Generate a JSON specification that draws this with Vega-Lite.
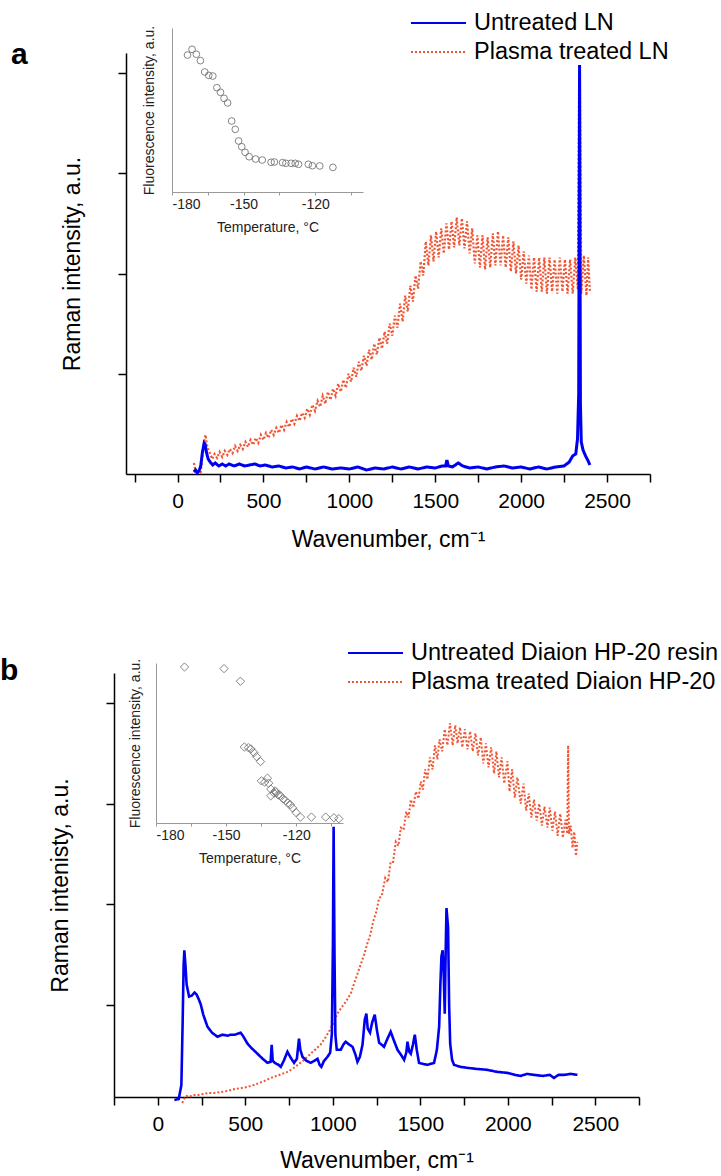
{
"$schema": "https://vega.github.io/schema/vega-lite/v6.json",
"autosize": {"type": "pad"},
"padding": {"left": 0, "top": 11, "right": 0, "bottom": 0},
"background": "white",
"config": {"font": "Liberation Sans", "view": {"stroke": null}, "axis": {"grid": false, "labelFont": "Liberation Sans", "titleFont": "Liberation Sans"}, "legend": {"labelFont": "Liberation Sans"}},
"datasets": {
"aLines": [
{"s":"Plasma treated LN","w":95,"v":0.11},{"s":"Plasma treated LN","w":105,"v":0.03},{"s":"Plasma treated LN","w":115,"v":0.01},{"s":"Plasma treated LN","w":125,"v":0.04},{"s":"Plasma treated LN","w":135,"v":0.02},{"s":"Plasma treated LN","w":145,"v":0.18},{"s":"Plasma treated LN","w":155,"v":0.33},{"s":"Plasma treated LN","w":163,"v":0.39},{"s":"Plasma treated LN","w":170,"v":0.30},{"s":"Plasma treated LN","w":180,"v":0.24},{"s":"Plasma treated LN","w":190,"v":0.20},{"s":"Plasma treated LN","w":202,"v":0.15},{"s":"Plasma treated LN","w":215,"v":0.20},{"s":"Plasma treated LN","w":230,"v":0.16},{"s":"Plasma treated LN","w":245,"v":0.22},{"s":"Plasma treated LN","w":260,"v":0.17},{"s":"Plasma treated LN","w":275,"v":0.23},{"s":"Plasma treated LN","w":290,"v":0.19},{"s":"Plasma treated LN","w":305,"v":0.25},{"s":"Plasma treated LN","w":320,"v":0.21},{"s":"Plasma treated LN","w":335,"v":0.28},{"s":"Plasma treated LN","w":350,"v":0.23},{"s":"Plasma treated LN","w":365,"v":0.29},{"s":"Plasma treated LN","w":380,"v":0.25},{"s":"Plasma treated LN","w":395,"v":0.32},{"s":"Plasma treated LN","w":410,"v":0.27},{"s":"Plasma treated LN","w":425,"v":0.34},{"s":"Plasma treated LN","w":440,"v":0.29},{"s":"Plasma treated LN","w":455,"v":0.36},{"s":"Plasma treated LN","w":470,"v":0.31},{"s":"Plasma treated LN","w":485,"v":0.39},{"s":"Plasma treated LN","w":500,"v":0.34},{"s":"Plasma treated LN","w":515,"v":0.41},{"s":"Plasma treated LN","w":530,"v":0.36},{"s":"Plasma treated LN","w":545,"v":0.44},{"s":"Plasma treated LN","w":560,"v":0.39},{"s":"Plasma treated LN","w":575,"v":0.46},{"s":"Plasma treated LN","w":590,"v":0.41},{"s":"Plasma treated LN","w":605,"v":0.49},{"s":"Plasma treated LN","w":620,"v":0.44},{"s":"Plasma treated LN","w":635,"v":0.52},{"s":"Plasma treated LN","w":650,"v":0.47},{"s":"Plasma treated LN","w":665,"v":0.55},{"s":"Plasma treated LN","w":680,"v":0.50},{"s":"Plasma treated LN","w":695,"v":0.58},{"s":"Plasma treated LN","w":710,"v":0.53},{"s":"Plasma treated LN","w":725,"v":0.61},{"s":"Plasma treated LN","w":740,"v":0.56},{"s":"Plasma treated LN","w":755,"v":0.65},{"s":"Plasma treated LN","w":770,"v":0.59},{"s":"Plasma treated LN","w":785,"v":0.69},{"s":"Plasma treated LN","w":800,"v":0.63},{"s":"Plasma treated LN","w":815,"v":0.73},{"s":"Plasma treated LN","w":830,"v":0.67},{"s":"Plasma treated LN","w":845,"v":0.78},{"s":"Plasma treated LN","w":860,"v":0.70},{"s":"Plasma treated LN","w":875,"v":0.82},{"s":"Plasma treated LN","w":890,"v":0.74},{"s":"Plasma treated LN","w":905,"v":0.85},{"s":"Plasma treated LN","w":920,"v":0.78},{"s":"Plasma treated LN","w":935,"v":0.90},{"s":"Plasma treated LN","w":950,"v":0.82},{"s":"Plasma treated LN","w":965,"v":0.94},{"s":"Plasma treated LN","w":980,"v":0.86},{"s":"Plasma treated LN","w":995,"v":1.00},{"s":"Plasma treated LN","w":1010,"v":0.92},{"s":"Plasma treated LN","w":1025,"v":1.06},{"s":"Plasma treated LN","w":1040,"v":0.97},{"s":"Plasma treated LN","w":1055,"v":1.12},{"s":"Plasma treated LN","w":1070,"v":1.03},{"s":"Plasma treated LN","w":1085,"v":1.18},{"s":"Plasma treated LN","w":1100,"v":1.08},{"s":"Plasma treated LN","w":1115,"v":1.24},{"s":"Plasma treated LN","w":1130,"v":1.14},{"s":"Plasma treated LN","w":1145,"v":1.30},{"s":"Plasma treated LN","w":1160,"v":1.19},{"s":"Plasma treated LN","w":1175,"v":1.36},{"s":"Plasma treated LN","w":1190,"v":1.25},{"s":"Plasma treated LN","w":1205,"v":1.42},{"s":"Plasma treated LN","w":1220,"v":1.30},{"s":"Plasma treated LN","w":1235,"v":1.50},{"s":"Plasma treated LN","w":1250,"v":1.38},{"s":"Plasma treated LN","w":1265,"v":1.58},{"s":"Plasma treated LN","w":1280,"v":1.46},{"s":"Plasma treated LN","w":1295,"v":1.70},{"s":"Plasma treated LN","w":1310,"v":1.52},{"s":"Plasma treated LN","w":1325,"v":1.78},{"s":"Plasma treated LN","w":1340,"v":1.62},{"s":"Plasma treated LN","w":1355,"v":1.88},{"s":"Plasma treated LN","w":1370,"v":1.72},{"s":"Plasma treated LN","w":1385,"v":1.98},{"s":"Plasma treated LN","w":1400,"v":1.85},{"s":"Plasma treated LN","w":1415,"v":2.12},{"s":"Plasma treated LN","w":1430,"v":1.98},{"s":"Plasma treated LN","w":1445,"v":2.32},{"s":"Plasma treated LN","w":1460,"v":2.08},{"s":"Plasma treated LN","w":1475,"v":2.38},{"s":"Plasma treated LN","w":1490,"v":2.12},{"s":"Plasma treated LN","w":1505,"v":2.42},{"s":"Plasma treated LN","w":1520,"v":2.16},{"s":"Plasma treated LN","w":1535,"v":2.45},{"s":"Plasma treated LN","w":1550,"v":2.20},{"s":"Plasma treated LN","w":1565,"v":2.50},{"s":"Plasma treated LN","w":1580,"v":2.24},{"s":"Plasma treated LN","w":1595,"v":2.52},{"s":"Plasma treated LN","w":1610,"v":2.26},{"s":"Plasma treated LN","w":1625,"v":2.56},{"s":"Plasma treated LN","w":1640,"v":2.28},{"s":"Plasma treated LN","w":1655,"v":2.55},{"s":"Plasma treated LN","w":1670,"v":2.25},{"s":"Plasma treated LN","w":1685,"v":2.52},{"s":"Plasma treated LN","w":1700,"v":2.20},{"s":"Plasma treated LN","w":1715,"v":2.45},{"s":"Plasma treated LN","w":1730,"v":2.10},{"s":"Plasma treated LN","w":1745,"v":2.38},{"s":"Plasma treated LN","w":1760,"v":2.06},{"s":"Plasma treated LN","w":1775,"v":2.38},{"s":"Plasma treated LN","w":1790,"v":2.04},{"s":"Plasma treated LN","w":1805,"v":2.36},{"s":"Plasma treated LN","w":1820,"v":2.06},{"s":"Plasma treated LN","w":1835,"v":2.40},{"s":"Plasma treated LN","w":1850,"v":2.08},{"s":"Plasma treated LN","w":1865,"v":2.42},{"s":"Plasma treated LN","w":1880,"v":2.08},{"s":"Plasma treated LN","w":1895,"v":2.38},{"s":"Plasma treated LN","w":1910,"v":2.06},{"s":"Plasma treated LN","w":1925,"v":2.36},{"s":"Plasma treated LN","w":1940,"v":2.02},{"s":"Plasma treated LN","w":1955,"v":2.32},{"s":"Plasma treated LN","w":1970,"v":2.00},{"s":"Plasma treated LN","w":1985,"v":2.28},{"s":"Plasma treated LN","w":2000,"v":1.94},{"s":"Plasma treated LN","w":2015,"v":2.22},{"s":"Plasma treated LN","w":2030,"v":1.90},{"s":"Plasma treated LN","w":2045,"v":2.18},{"s":"Plasma treated LN","w":2060,"v":1.84},{"s":"Plasma treated LN","w":2075,"v":2.16},{"s":"Plasma treated LN","w":2090,"v":1.82},{"s":"Plasma treated LN","w":2105,"v":2.16},{"s":"Plasma treated LN","w":2120,"v":1.82},{"s":"Plasma treated LN","w":2135,"v":2.16},{"s":"Plasma treated LN","w":2150,"v":1.80},{"s":"Plasma treated LN","w":2165,"v":2.16},{"s":"Plasma treated LN","w":2180,"v":1.82},{"s":"Plasma treated LN","w":2195,"v":2.14},{"s":"Plasma treated LN","w":2210,"v":1.80},{"s":"Plasma treated LN","w":2225,"v":2.16},{"s":"Plasma treated LN","w":2240,"v":1.82},{"s":"Plasma treated LN","w":2255,"v":2.14},{"s":"Plasma treated LN","w":2270,"v":1.80},{"s":"Plasma treated LN","w":2285,"v":2.14},{"s":"Plasma treated LN","w":2300,"v":1.80},{"s":"Plasma treated LN","w":2315,"v":2.16},{"s":"Plasma treated LN","w":2330,"v":1.84},{"s":"Plasma treated LN","w":2338,"v":4.08},{"s":"Plasma treated LN","w":2342,"v":4.08},{"s":"Plasma treated LN","w":2350,"v":1.80},{"s":"Plasma treated LN","w":2365,"v":2.18},{"s":"Plasma treated LN","w":2380,"v":1.78},{"s":"Plasma treated LN","w":2390,"v":2.16},{"s":"Plasma treated LN","w":2400,"v":1.82},
{"s":"Untreated LN","w":95,"v":0.02},{"s":"Untreated LN","w":105,"v":0.04},{"s":"Untreated LN","w":115,"v":0.01},{"s":"Untreated LN","w":125,"v":0.03},{"s":"Untreated LN","w":135,"v":0.08},{"s":"Untreated LN","w":145,"v":0.22},{"s":"Untreated LN","w":155,"v":0.31},{"s":"Untreated LN","w":160,"v":0.30},{"s":"Untreated LN","w":168,"v":0.22},{"s":"Untreated LN","w":178,"v":0.15},{"s":"Untreated LN","w":190,"v":0.12},{"s":"Untreated LN","w":205,"v":0.09},{"s":"Untreated LN","w":220,"v":0.11},{"s":"Untreated LN","w":240,"v":0.08},{"s":"Untreated LN","w":260,"v":0.10},{"s":"Untreated LN","w":280,"v":0.08},{"s":"Untreated LN","w":300,"v":0.10},{"s":"Untreated LN","w":330,"v":0.08},{"s":"Untreated LN","w":360,"v":0.10},{"s":"Untreated LN","w":390,"v":0.08},{"s":"Untreated LN","w":420,"v":0.09},{"s":"Untreated LN","w":450,"v":0.10},{"s":"Untreated LN","w":480,"v":0.08},{"s":"Untreated LN","w":510,"v":0.09},{"s":"Untreated LN","w":550,"v":0.07},{"s":"Untreated LN","w":590,"v":0.08},{"s":"Untreated LN","w":630,"v":0.06},{"s":"Untreated LN","w":670,"v":0.07},{"s":"Untreated LN","w":710,"v":0.05},{"s":"Untreated LN","w":750,"v":0.07},{"s":"Untreated LN","w":800,"v":0.05},{"s":"Untreated LN","w":850,"v":0.07},{"s":"Untreated LN","w":900,"v":0.05},{"s":"Untreated LN","w":950,"v":0.06},{"s":"Untreated LN","w":1000,"v":0.05},{"s":"Untreated LN","w":1050,"v":0.07},{"s":"Untreated LN","w":1100,"v":0.04},{"s":"Untreated LN","w":1150,"v":0.06},{"s":"Untreated LN","w":1200,"v":0.05},{"s":"Untreated LN","w":1250,"v":0.07},{"s":"Untreated LN","w":1300,"v":0.05},{"s":"Untreated LN","w":1350,"v":0.07},{"s":"Untreated LN","w":1400,"v":0.05},{"s":"Untreated LN","w":1450,"v":0.07},{"s":"Untreated LN","w":1500,"v":0.06},{"s":"Untreated LN","w":1540,"v":0.08},{"s":"Untreated LN","w":1560,"v":0.08},{"s":"Untreated LN","w":1568,"v":0.14},{"s":"Untreated LN","w":1576,"v":0.08},{"s":"Untreated LN","w":1600,"v":0.07},{"s":"Untreated LN","w":1634,"v":0.11},{"s":"Untreated LN","w":1660,"v":0.08},{"s":"Untreated LN","w":1700,"v":0.06},{"s":"Untreated LN","w":1750,"v":0.07},{"s":"Untreated LN","w":1800,"v":0.05},{"s":"Untreated LN","w":1850,"v":0.07},{"s":"Untreated LN","w":1900,"v":0.08},{"s":"Untreated LN","w":1950,"v":0.06},{"s":"Untreated LN","w":2000,"v":0.07},{"s":"Untreated LN","w":2050,"v":0.05},{"s":"Untreated LN","w":2100,"v":0.07},{"s":"Untreated LN","w":2150,"v":0.05},{"s":"Untreated LN","w":2200,"v":0.07},{"s":"Untreated LN","w":2250,"v":0.08},{"s":"Untreated LN","w":2280,"v":0.12},{"s":"Untreated LN","w":2300,"v":0.18},{"s":"Untreated LN","w":2318,"v":0.20},{"s":"Untreated LN","w":2328,"v":0.35},{"s":"Untreated LN","w":2335,"v":0.8},{"s":"Untreated LN","w":2340,"v":4.08},{"s":"Untreated LN","w":2345,"v":0.7},{"s":"Untreated LN","w":2350,"v":0.32},{"s":"Untreated LN","w":2360,"v":0.24},{"s":"Untreated LN","w":2375,"v":0.18},{"s":"Untreated LN","w":2390,"v":0.13},{"s":"Untreated LN","w":2400,"v":0.09}
],
"aInset": [
{"t":-173.5,"f":83.5},{"t":-171.6,"f":87.0},{"t":-169.8,"f":84.0},{"t":-168.1,"f":80.1},{"t":-166.3,"f":73.2},{"t":-164.6,"f":71.1},{"t":-162.9,"f":70.7},{"t":-161.2,"f":63.6},{"t":-159.7,"f":60.8},{"t":-158.2,"f":57.1},{"t":-156.7,"f":54.3},{"t":-155.0,"f":43.3},{"t":-153.5,"f":38.2},{"t":-152.1,"f":31.1},{"t":-150.8,"f":27.6},{"t":-149.4,"f":24.2},{"t":-147.7,"f":21.5},{"t":-145.0,"f":20.1},{"t":-142.2,"f":19.5},{"t":-138.5,"f":18.1},{"t":-137.1,"f":18.3},{"t":-133.7,"f":17.9},{"t":-132.3,"f":17.5},{"t":-130.1,"f":17.5},{"t":-128.4,"f":17.5},{"t":-127.0,"f":16.9},{"t":-122.9,"f":16.9},{"t":-121.2,"f":16.0},{"t":-118.1,"f":15.9},{"t":-112.6,"f":15.0}
],
"bLines": [
{"s":"Plasma treated Diaion HP-20","w":140,"v":0.02},{"s":"Plasma treated Diaion HP-20","w":150,"v":0.06},{"s":"Plasma treated Diaion HP-20","w":165,"v":0.09},{"s":"Plasma treated Diaion HP-20","w":180,"v":0.08},{"s":"Plasma treated Diaion HP-20","w":200,"v":0.10},{"s":"Plasma treated Diaion HP-20","w":230,"v":0.10},{"s":"Plasma treated Diaion HP-20","w":260,"v":0.11},{"s":"Plasma treated Diaion HP-20","w":290,"v":0.12},{"s":"Plasma treated Diaion HP-20","w":320,"v":0.12},{"s":"Plasma treated Diaion HP-20","w":360,"v":0.13},{"s":"Plasma treated Diaion HP-20","w":400,"v":0.14},{"s":"Plasma treated Diaion HP-20","w":440,"v":0.16},{"s":"Plasma treated Diaion HP-20","w":480,"v":0.17},{"s":"Plasma treated Diaion HP-20","w":513,"v":0.18},{"s":"Plasma treated Diaion HP-20","w":550,"v":0.20},{"s":"Plasma treated Diaion HP-20","w":580,"v":0.22},{"s":"Plasma treated Diaion HP-20","w":610,"v":0.24},{"s":"Plasma treated Diaion HP-20","w":646,"v":0.27},{"s":"Plasma treated Diaion HP-20","w":680,"v":0.29},{"s":"Plasma treated Diaion HP-20","w":710,"v":0.31},{"s":"Plasma treated Diaion HP-20","w":741,"v":0.33},{"s":"Plasma treated Diaion HP-20","w":770,"v":0.36},{"s":"Plasma treated Diaion HP-20","w":800,"v":0.40},{"s":"Plasma treated Diaion HP-20","w":830,"v":0.44},{"s":"Plasma treated Diaion HP-20","w":855,"v":0.48},{"s":"Plasma treated Diaion HP-20","w":880,"v":0.52},{"s":"Plasma treated Diaion HP-20","w":905,"v":0.56},{"s":"Plasma treated Diaion HP-20","w":930,"v":0.60},{"s":"Plasma treated Diaion HP-20","w":950,"v":0.65},{"s":"Plasma treated Diaion HP-20","w":975,"v":0.72},{"s":"Plasma treated Diaion HP-20","w":1000,"v":0.80},{"s":"Plasma treated Diaion HP-20","w":1027,"v":0.91},{"s":"Plasma treated Diaion HP-20","w":1050,"v":0.97},{"s":"Plasma treated Diaion HP-20","w":1075,"v":1.03},{"s":"Plasma treated Diaion HP-20","w":1103,"v":1.11},{"s":"Plasma treated Diaion HP-20","w":1122,"v":1.21},{"s":"Plasma treated Diaion HP-20","w":1140,"v":1.30},{"s":"Plasma treated Diaion HP-20","w":1160,"v":1.40},{"s":"Plasma treated Diaion HP-20","w":1180,"v":1.50},{"s":"Plasma treated Diaion HP-20","w":1198,"v":1.61},{"s":"Plasma treated Diaion HP-20","w":1215,"v":1.70},{"s":"Plasma treated Diaion HP-20","w":1230,"v":1.82},{"s":"Plasma treated Diaion HP-20","w":1250,"v":1.93},{"s":"Plasma treated Diaion HP-20","w":1265,"v":2.06},{"s":"Plasma treated Diaion HP-20","w":1280,"v":2.08},{"s":"Plasma treated Diaion HP-20","w":1300,"v":2.26},{"s":"Plasma treated Diaion HP-20","w":1315,"v":2.22},{"s":"Plasma treated Diaion HP-20","w":1331,"v":2.42},{"s":"Plasma treated Diaion HP-20","w":1345,"v":2.42},{"s":"Plasma treated Diaion HP-20","w":1360,"v":2.62},{"s":"Plasma treated Diaion HP-20","w":1375,"v":2.58},{"s":"Plasma treated Diaion HP-20","w":1389,"v":2.76},{"s":"Plasma treated Diaion HP-20","w":1405,"v":2.74},{"s":"Plasma treated Diaion HP-20","w":1420,"v":2.92},{"s":"Plasma treated Diaion HP-20","w":1433,"v":2.86},{"s":"Plasma treated Diaion HP-20","w":1446,"v":3.04},{"s":"Plasma treated Diaion HP-20","w":1460,"v":2.96},{"s":"Plasma treated Diaion HP-20","w":1475,"v":3.12},{"s":"Plasma treated Diaion HP-20","w":1490,"v":3.05},{"s":"Plasma treated Diaion HP-20","w":1503,"v":3.22},{"s":"Plasma treated Diaion HP-20","w":1515,"v":3.14},{"s":"Plasma treated Diaion HP-20","w":1528,"v":3.34},{"s":"Plasma treated Diaion HP-20","w":1541,"v":3.24},{"s":"Plasma treated Diaion HP-20","w":1555,"v":3.46},{"s":"Plasma treated Diaion HP-20","w":1570,"v":3.34},{"s":"Plasma treated Diaion HP-20","w":1584,"v":3.58},{"s":"Plasma treated Diaion HP-20","w":1598,"v":3.44},{"s":"Plasma treated Diaion HP-20","w":1610,"v":3.64},{"s":"Plasma treated Diaion HP-20","w":1625,"v":3.52},{"s":"Plasma treated Diaion HP-20","w":1640,"v":3.74},{"s":"Plasma treated Diaion HP-20","w":1655,"v":3.58},{"s":"Plasma treated Diaion HP-20","w":1670,"v":3.80},{"s":"Plasma treated Diaion HP-20","w":1685,"v":3.58},{"s":"Plasma treated Diaion HP-20","w":1700,"v":3.78},{"s":"Plasma treated Diaion HP-20","w":1713,"v":3.60},{"s":"Plasma treated Diaion HP-20","w":1727,"v":3.76},{"s":"Plasma treated Diaion HP-20","w":1740,"v":3.56},{"s":"Plasma treated Diaion HP-20","w":1755,"v":3.74},{"s":"Plasma treated Diaion HP-20","w":1770,"v":3.54},{"s":"Plasma treated Diaion HP-20","w":1785,"v":3.72},{"s":"Plasma treated Diaion HP-20","w":1800,"v":3.52},{"s":"Plasma treated Diaion HP-20","w":1815,"v":3.70},{"s":"Plasma treated Diaion HP-20","w":1830,"v":3.48},{"s":"Plasma treated Diaion HP-20","w":1846,"v":3.66},{"s":"Plasma treated Diaion HP-20","w":1860,"v":3.40},{"s":"Plasma treated Diaion HP-20","w":1875,"v":3.60},{"s":"Plasma treated Diaion HP-20","w":1890,"v":3.36},{"s":"Plasma treated Diaion HP-20","w":1905,"v":3.56},{"s":"Plasma treated Diaion HP-20","w":1922,"v":3.30},{"s":"Plasma treated Diaion HP-20","w":1935,"v":3.52},{"s":"Plasma treated Diaion HP-20","w":1950,"v":3.26},{"s":"Plasma treated Diaion HP-20","w":1965,"v":3.46},{"s":"Plasma treated Diaion HP-20","w":1980,"v":3.20},{"s":"Plasma treated Diaion HP-20","w":1998,"v":3.42},{"s":"Plasma treated Diaion HP-20","w":2010,"v":3.12},{"s":"Plasma treated Diaion HP-20","w":2025,"v":3.34},{"s":"Plasma treated Diaion HP-20","w":2040,"v":3.06},{"s":"Plasma treated Diaion HP-20","w":2055,"v":3.26},{"s":"Plasma treated Diaion HP-20","w":2074,"v":3.00},{"s":"Plasma treated Diaion HP-20","w":2090,"v":3.20},{"s":"Plasma treated Diaion HP-20","w":2105,"v":2.93},{"s":"Plasma treated Diaion HP-20","w":2120,"v":3.10},{"s":"Plasma treated Diaion HP-20","w":2135,"v":2.86},{"s":"Plasma treated Diaion HP-20","w":2150,"v":3.04},{"s":"Plasma treated Diaion HP-20","w":2165,"v":2.83},{"s":"Plasma treated Diaion HP-20","w":2180,"v":3.00},{"s":"Plasma treated Diaion HP-20","w":2195,"v":2.78},{"s":"Plasma treated Diaion HP-20","w":2210,"v":2.97},{"s":"Plasma treated Diaion HP-20","w":2227,"v":2.76},{"s":"Plasma treated Diaion HP-20","w":2240,"v":2.96},{"s":"Plasma treated Diaion HP-20","w":2255,"v":2.73},{"s":"Plasma treated Diaion HP-20","w":2270,"v":2.92},{"s":"Plasma treated Diaion HP-20","w":2285,"v":2.68},{"s":"Plasma treated Diaion HP-20","w":2300,"v":2.90},{"s":"Plasma treated Diaion HP-20","w":2315,"v":2.66},{"s":"Plasma treated Diaion HP-20","w":2330,"v":2.84},{"s":"Plasma treated Diaion HP-20","w":2340,"v":2.70},{"s":"Plasma treated Diaion HP-20","w":2345,"v":3.58},{"s":"Plasma treated Diaion HP-20","w":2350,"v":2.70},{"s":"Plasma treated Diaion HP-20","w":2360,"v":2.78},{"s":"Plasma treated Diaion HP-20","w":2370,"v":2.56},{"s":"Plasma treated Diaion HP-20","w":2380,"v":2.72},{"s":"Plasma treated Diaion HP-20","w":2390,"v":2.48},{"s":"Plasma treated Diaion HP-20","w":2398,"v":2.62},
{"s":"Untreated Diaion HP-20 resin","w":95,"v":0.05},{"s":"Untreated Diaion HP-20 resin","w":120,"v":0.06},{"s":"Untreated Diaion HP-20 resin","w":135,"v":0.2},{"s":"Untreated Diaion HP-20 resin","w":142,"v":0.8},{"s":"Untreated Diaion HP-20 resin","w":148,"v":1.4},{"s":"Untreated Diaion HP-20 resin","w":152,"v":1.54},{"s":"Untreated Diaion HP-20 resin","w":158,"v":1.4},{"s":"Untreated Diaion HP-20 resin","w":165,"v":1.2},{"s":"Untreated Diaion HP-20 resin","w":179,"v":1.08},{"s":"Untreated Diaion HP-20 resin","w":195,"v":1.09},{"s":"Untreated Diaion HP-20 resin","w":210,"v":1.12},{"s":"Untreated Diaion HP-20 resin","w":222,"v":1.10},{"s":"Untreated Diaion HP-20 resin","w":235,"v":1.05},{"s":"Untreated Diaion HP-20 resin","w":246,"v":1.0},{"s":"Untreated Diaion HP-20 resin","w":260,"v":0.9},{"s":"Untreated Diaion HP-20 resin","w":284,"v":0.78},{"s":"Untreated Diaion HP-20 resin","w":310,"v":0.72},{"s":"Untreated Diaion HP-20 resin","w":341,"v":0.68},{"s":"Untreated Diaion HP-20 resin","w":370,"v":0.70},{"s":"Untreated Diaion HP-20 resin","w":400,"v":0.69},{"s":"Untreated Diaion HP-20 resin","w":417,"v":0.70},{"s":"Untreated Diaion HP-20 resin","w":440,"v":0.70},{"s":"Untreated Diaion HP-20 resin","w":474,"v":0.72},{"s":"Untreated Diaion HP-20 resin","w":490,"v":0.68},{"s":"Untreated Diaion HP-20 resin","w":513,"v":0.61},{"s":"Untreated Diaion HP-20 resin","w":540,"v":0.56},{"s":"Untreated Diaion HP-20 resin","w":570,"v":0.51},{"s":"Untreated Diaion HP-20 resin","w":600,"v":0.46},{"s":"Untreated Diaion HP-20 resin","w":627,"v":0.42},{"s":"Untreated Diaion HP-20 resin","w":645,"v":0.43},{"s":"Untreated Diaion HP-20 resin","w":651,"v":0.60},{"s":"Untreated Diaion HP-20 resin","w":657,"v":0.44},{"s":"Untreated Diaion HP-20 resin","w":669,"v":0.42},{"s":"Untreated Diaion HP-20 resin","w":690,"v":0.40},{"s":"Untreated Diaion HP-20 resin","w":703,"v":0.38},{"s":"Untreated Diaion HP-20 resin","w":720,"v":0.44},{"s":"Untreated Diaion HP-20 resin","w":741,"v":0.53},{"s":"Untreated Diaion HP-20 resin","w":760,"v":0.47},{"s":"Untreated Diaion HP-20 resin","w":779,"v":0.42},{"s":"Untreated Diaion HP-20 resin","w":795,"v":0.46},{"s":"Untreated Diaion HP-20 resin","w":807,"v":0.66},{"s":"Untreated Diaion HP-20 resin","w":815,"v":0.55},{"s":"Untreated Diaion HP-20 resin","w":827,"v":0.48},{"s":"Untreated Diaion HP-20 resin","w":850,"v":0.44},{"s":"Untreated Diaion HP-20 resin","w":874,"v":0.42},{"s":"Untreated Diaion HP-20 resin","w":895,"v":0.44},{"s":"Untreated Diaion HP-20 resin","w":913,"v":0.46},{"s":"Untreated Diaion HP-20 resin","w":925,"v":0.40},{"s":"Untreated Diaion HP-20 resin","w":935,"v":0.38},{"s":"Untreated Diaion HP-20 resin","w":950,"v":0.44},{"s":"Untreated Diaion HP-20 resin","w":970,"v":0.48},{"s":"Untreated Diaion HP-20 resin","w":985,"v":0.52},{"s":"Untreated Diaion HP-20 resin","w":995,"v":0.71},{"s":"Untreated Diaion HP-20 resin","w":1001,"v":1.6},{"s":"Untreated Diaion HP-20 resin","w":1005,"v":2.77},{"s":"Untreated Diaion HP-20 resin","w":1010,"v":1.5},{"s":"Untreated Diaion HP-20 resin","w":1015,"v":0.7},{"s":"Untreated Diaion HP-20 resin","w":1023,"v":0.55},{"s":"Untreated Diaion HP-20 resin","w":1046,"v":0.55},{"s":"Untreated Diaion HP-20 resin","w":1060,"v":0.6},{"s":"Untreated Diaion HP-20 resin","w":1074,"v":0.63},{"s":"Untreated Diaion HP-20 resin","w":1095,"v":0.60},{"s":"Untreated Diaion HP-20 resin","w":1113,"v":0.58},{"s":"Untreated Diaion HP-20 resin","w":1130,"v":0.50},{"s":"Untreated Diaion HP-20 resin","w":1141,"v":0.43},{"s":"Untreated Diaion HP-20 resin","w":1155,"v":0.48},{"s":"Untreated Diaion HP-20 resin","w":1170,"v":0.60},{"s":"Untreated Diaion HP-20 resin","w":1183,"v":0.85},{"s":"Untreated Diaion HP-20 resin","w":1192,"v":0.91},{"s":"Untreated Diaion HP-20 resin","w":1200,"v":0.76},{"s":"Untreated Diaion HP-20 resin","w":1213,"v":0.72},{"s":"Untreated Diaion HP-20 resin","w":1225,"v":0.82},{"s":"Untreated Diaion HP-20 resin","w":1240,"v":0.90},{"s":"Untreated Diaion HP-20 resin","w":1252,"v":0.75},{"s":"Untreated Diaion HP-20 resin","w":1265,"v":0.62},{"s":"Untreated Diaion HP-20 resin","w":1280,"v":0.60},{"s":"Untreated Diaion HP-20 resin","w":1293,"v":0.58},{"s":"Untreated Diaion HP-20 resin","w":1310,"v":0.65},{"s":"Untreated Diaion HP-20 resin","w":1331,"v":0.73},{"s":"Untreated Diaion HP-20 resin","w":1350,"v":0.64},{"s":"Untreated Diaion HP-20 resin","w":1370,"v":0.55},{"s":"Untreated Diaion HP-20 resin","w":1390,"v":0.50},{"s":"Untreated Diaion HP-20 resin","w":1408,"v":0.45},{"s":"Untreated Diaion HP-20 resin","w":1420,"v":0.52},{"s":"Untreated Diaion HP-20 resin","w":1427,"v":0.63},{"s":"Untreated Diaion HP-20 resin","w":1437,"v":0.53},{"s":"Untreated Diaion HP-20 resin","w":1446,"v":0.51},{"s":"Untreated Diaion HP-20 resin","w":1458,"v":0.60},{"s":"Untreated Diaion HP-20 resin","w":1469,"v":0.70},{"s":"Untreated Diaion HP-20 resin","w":1480,"v":0.55},{"s":"Untreated Diaion HP-20 resin","w":1493,"v":0.42},{"s":"Untreated Diaion HP-20 resin","w":1515,"v":0.41},{"s":"Untreated Diaion HP-20 resin","w":1541,"v":0.40},{"s":"Untreated Diaion HP-20 resin","w":1560,"v":0.41},{"s":"Untreated Diaion HP-20 resin","w":1579,"v":0.42},{"s":"Untreated Diaion HP-20 resin","w":1595,"v":0.55},{"s":"Untreated Diaion HP-20 resin","w":1608,"v":0.78},{"s":"Untreated Diaion HP-20 resin","w":1615,"v":1.2},{"s":"Untreated Diaion HP-20 resin","w":1621,"v":1.48},{"s":"Untreated Diaion HP-20 resin","w":1628,"v":1.54},{"s":"Untreated Diaion HP-20 resin","w":1634,"v":1.3},{"s":"Untreated Diaion HP-20 resin","w":1640,"v":0.91},{"s":"Untreated Diaion HP-20 resin","w":1645,"v":1.5},{"s":"Untreated Diaion HP-20 resin","w":1650,"v":1.96},{"s":"Untreated Diaion HP-20 resin","w":1655,"v":1.85},{"s":"Untreated Diaion HP-20 resin","w":1659,"v":1.77},{"s":"Untreated Diaion HP-20 resin","w":1665,"v":1.0},{"s":"Untreated Diaion HP-20 resin","w":1671,"v":0.61},{"s":"Untreated Diaion HP-20 resin","w":1682,"v":0.45},{"s":"Untreated Diaion HP-20 resin","w":1693,"v":0.40},{"s":"Untreated Diaion HP-20 resin","w":1730,"v":0.38},{"s":"Untreated Diaion HP-20 resin","w":1770,"v":0.37},{"s":"Untreated Diaion HP-20 resin","w":1820,"v":0.36},{"s":"Untreated Diaion HP-20 resin","w":1884,"v":0.35},{"s":"Untreated Diaion HP-20 resin","w":1940,"v":0.33},{"s":"Untreated Diaion HP-20 resin","w":1998,"v":0.32},{"s":"Untreated Diaion HP-20 resin","w":2040,"v":0.30},{"s":"Untreated Diaion HP-20 resin","w":2074,"v":0.29},{"s":"Untreated Diaion HP-20 resin","w":2110,"v":0.31},{"s":"Untreated Diaion HP-20 resin","w":2150,"v":0.30},{"s":"Untreated Diaion HP-20 resin","w":2200,"v":0.29},{"s":"Untreated Diaion HP-20 resin","w":2240,"v":0.30},{"s":"Untreated Diaion HP-20 resin","w":2264,"v":0.27},{"s":"Untreated Diaion HP-20 resin","w":2290,"v":0.30},{"s":"Untreated Diaion HP-20 resin","w":2322,"v":0.30},{"s":"Untreated Diaion HP-20 resin","w":2360,"v":0.31},{"s":"Untreated Diaion HP-20 resin","w":2398,"v":0.30}
],
"bInset": [
{"t":-167.8,"f":97.5},{"t":-150.9,"f":96.5},{"t":-143.9,"f":88.6},{"t":-142.2,"f":47.5},{"t":-140.5,"f":47.1},{"t":-139.4,"f":46.3},{"t":-138.1,"f":44.0},{"t":-137.0,"f":41.5},{"t":-135.3,"f":38.4},{"t":-134.9,"f":26.3},{"t":-133.5,"f":25.5},{"t":-132.3,"f":28.0},{"t":-131.8,"f":24.9},{"t":-130.9,"f":21.2},{"t":-130.9,"f":17.0},{"t":-129.5,"f":18.7},{"t":-129.0,"f":20.0},{"t":-128.5,"f":19.0},{"t":-127.8,"f":17.6},{"t":-126.8,"f":17.2},{"t":-125.7,"f":15.1},{"t":-124.6,"f":14.1},{"t":-123.6,"f":12.4},{"t":-122.5,"f":11.4},{"t":-121.5,"f":9.3},{"t":-120.1,"f":6.6},{"t":-118.2,"f":3.7},{"t":-113.5,"f":3.7},{"t":-107.4,"f":3.7},{"t":-103.9,"f":3.3},{"t":-101.8,"f":2.7}
]
},
"vconcat": [
{
"width": 536, "height": 421,
"title": {"text": "a", "anchor": "start", "frame": "group", "fontSize": 30, "fontWeight": "bold", "font": "Liberation Sans", "dx": -103, "dy": 59, "offset": 0},
"layer": [
{
"data": {"name": "aLines"},
"encoding": {
"x": {"field": "w", "type": "quantitative", "scale": {"domain": [-300, 2750], "range": [12, 536], "nice": false, "zero": false},
"axis": {"values": [-250,0,250,500,750,1000,1250,1500,1750,2000,2250,2500,2750], "labelExpr": "datum.value % 500 === 0 ? '' + datum.value : ''", "tickSize": 8, "tickWidth": 1.5, "domainWidth": 1.5, "domainColor": "#000", "tickColor": "#000", "labelFontSize": 21, "labelColor": "#000", "labelPadding": 8, "title": "Wavenumber, cm⁻¹", "titleFontSize": 23, "titleFontWeight": "normal", "titleColor": "#000", "titlePadding": 17}},
"y": {"field": "v", "type": "quantitative", "scale": {"domain": [0, 4.2], "nice": false, "zero": false},
"axis": {"values": [1,2,3,4], "labels": false, "tickSize": 8, "tickWidth": 1.5, "domainWidth": 1.5, "domainColor": "#000", "tickColor": "#000", "offset": -12, "title": "Raman intensity, a.u.", "titleFontSize": 23, "titleFontWeight": "normal", "titleColor": "#000", "titlePadding": 33}},
"color": {"field": "s", "type": "nominal", "scale": {"domain": ["Untreated LN", "Plasma treated LN"], "range": ["#0000F0", "#EF5636"]},
"legend": {"orient": "none", "legendX": 296, "legendY": -42, "title": null, "symbolType": "stroke", "symbolSize": 3025, "symbolStrokeWidth": 2, "clipHeight": 24, "labelFontSize": 23.5, "labelColor": "#000", "labelOffset": 7, "rowPadding": 5, "padding": 0, "labelLimit": 600}},
"strokeDash": {"field": "s", "type": "nominal", "scale": {"domain": ["Untreated LN", "Plasma treated LN"], "range": [[1, 0], [2, 2]]},
"legend": {"orient": "none", "legendX": 296, "legendY": -42, "title": null, "symbolType": "stroke", "symbolSize": 3025, "symbolStrokeWidth": 2, "clipHeight": 24, "labelFontSize": 23.5, "labelColor": "#000", "labelOffset": 7, "rowPadding": 5, "padding": 0, "labelLimit": 600}}
},
"layer": [
{"transform": [{"filter": "datum.s === 'Plasma treated LN'"}], "mark": {"type": "line", "strokeWidth": 2.2, "clip": false}},
{"transform": [{"filter": "datum.s === 'Untreated LN'"}], "mark": {"type": "line", "strokeWidth": 3, "clip": false}}
]
},
{
"data": {"name": "aInset"},
"mark": {"type": "point", "shape": "circle", "filled": false, "size": 45, "stroke": "#777", "strokeWidth": 0.9, "opacity": 1},
"encoding": {
"x": {"field": "t", "type": "quantitative", "scale": {"domain": [-180, -100], "range": [58, 249], "nice": false, "zero": false},
"axis": {"orient": "bottom", "offset": -282, "values": [-180,-165,-150,-135,-120,-105], "labelExpr": "datum.value % 30 === 0 ? '' + datum.value : ''", "tickSize": 3, "domainColor": "#999", "tickColor": "#999", "labelFontSize": 14, "labelColor": "#222", "labelPadding": 2, "title": "Temperature, °C", "titleFontSize": 14, "titleFontWeight": "normal", "titleColor": "#222", "titlePadding": 9}},
"y": {"field": "f", "type": "quantitative", "scale": {"domain": [0, 100], "range": [139, -25], "nice": false, "zero": false},
"axis": {"orient": "left", "offset": -58, "ticks": false, "labels": false, "domainColor": "#999", "title": "Fluorescence intensity, a.u.", "titleFontSize": 14, "titleFontWeight": "normal", "titleColor": "#222", "titlePadding": 16}}
}
}
],
"resolve": {"scale": {"x": "independent", "y": "independent"}}
},
{
"width": 525, "height": 424,
"title": {"text": "b", "anchor": "start", "frame": "group", "fontSize": 30, "fontWeight": "bold", "font": "Liberation Sans", "dx": -114, "dy": 45, "offset": 0},
"layer": [
{
"data": {"name": "bLines"},
"encoding": {
"x": {"field": "w", "type": "quantitative", "scale": {"domain": [-250, 2750], "nice": false, "zero": false},
"axis": {"values": [-250,0,250,500,750,1000,1250,1500,1750,2000,2250,2500,2750], "labelExpr": "datum.value % 500 === 0 ? '' + datum.value : ''", "tickSize": 8, "tickWidth": 1.5, "domainWidth": 1.5, "domainColor": "#000", "tickColor": "#000", "labelFontSize": 21, "labelColor": "#000", "labelPadding": 8, "title": "Wavenumber, cm⁻¹", "titleFontSize": 23, "titleFontWeight": "normal", "titleColor": "#000", "titlePadding": 15}},
"y": {"field": "v", "type": "quantitative", "scale": {"domain": [0.08, 4.3], "nice": false, "zero": false},
"axis": {"values": [1,2,3,4], "labels": false, "tickSize": 8, "tickWidth": 1.5, "domainWidth": 1.5, "domainColor": "#000", "tickColor": "#000", "title": "Raman intenisty, a.u.", "titleFontSize": 23, "titleFontWeight": "normal", "titleColor": "#000", "titlePadding": 33}},
"color": {"field": "s", "type": "nominal", "scale": {"domain": ["Untreated Diaion HP-20 resin", "Plasma treated Diaion HP-20"], "range": ["#0000F0", "#EF5636"]},
"legend": {"orient": "none", "legendX": 233, "legendY": -32, "title": null, "symbolType": "stroke", "symbolSize": 3025, "symbolStrokeWidth": 2, "clipHeight": 24, "labelFontSize": 23.5, "labelColor": "#000", "labelOffset": 7, "rowPadding": 5, "padding": 0, "labelLimit": 600}},
"strokeDash": {"field": "s", "type": "nominal", "scale": {"domain": ["Untreated Diaion HP-20 resin", "Plasma treated Diaion HP-20"], "range": [[1, 0], [2, 2]]},
"legend": {"orient": "none", "legendX": 233, "legendY": -32, "title": null, "symbolType": "stroke", "symbolSize": 3025, "symbolStrokeWidth": 2, "clipHeight": 24, "labelFontSize": 23.5, "labelColor": "#000", "labelOffset": 7, "rowPadding": 5, "padding": 0, "labelLimit": 600}}
},
"layer": [
{"transform": [{"filter": "datum.s === 'Plasma treated Diaion HP-20'"}], "mark": {"type": "line", "strokeWidth": 2, "clip": false}},
{"transform": [{"filter": "datum.s === 'Untreated Diaion HP-20 resin'"}], "mark": {"type": "line", "strokeWidth": 2.6, "clip": false}}
]
},
{
"data": {"name": "bInset"},
"mark": {"type": "point", "shape": "diamond", "filled": false, "size": 70, "stroke": "#777", "strokeWidth": 0.9, "opacity": 1},
"encoding": {
"x": {"field": "t", "type": "quantitative", "scale": {"domain": [-180, -100], "range": [42, 229], "nice": false, "zero": false},
"axis": {"orient": "bottom", "offset": -274, "values": [-180,-165,-150,-135,-120,-105], "labelExpr": "datum.value % 30 === 0 ? '' + datum.value : ''", "tickSize": 3, "domainColor": "#999", "tickColor": "#999", "labelFontSize": 14, "labelColor": "#222", "labelPadding": 2, "title": "Temperature, °C", "titleFontSize": 14, "titleFontWeight": "normal", "titleColor": "#222", "titlePadding": 9}},
"y": {"field": "f", "type": "quantitative", "scale": {"domain": [0, 100], "range": [150, -10], "nice": false, "zero": false},
"axis": {"orient": "left", "offset": -42, "ticks": false, "labels": false, "domainColor": "#999", "title": "Fluorescence intensity, a.u.", "titleFontSize": 14, "titleFontWeight": "normal", "titleColor": "#222", "titlePadding": 14}}
}
}
],
"resolve": {"scale": {"x": "independent", "y": "independent"}}
}
],
"spacing": 199,
"bounds": "flush",
"resolve": {"scale": {"color": "independent", "strokeDash": "independent"}, "legend": {"color": "independent", "strokeDash": "independent"}}
}
